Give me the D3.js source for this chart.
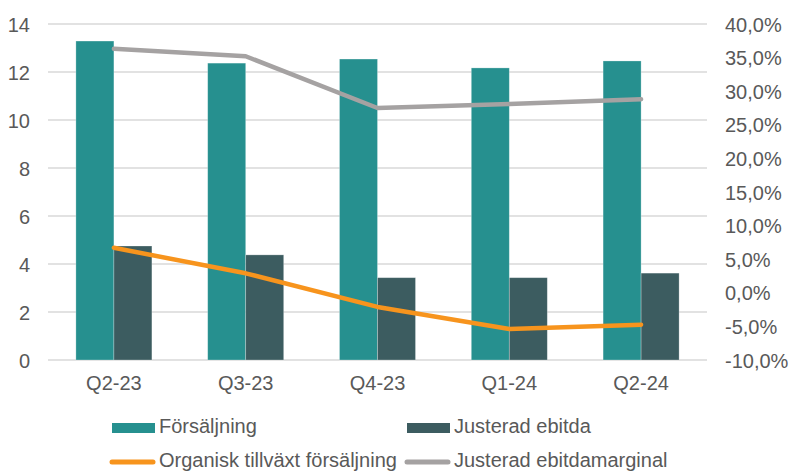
<!DOCTYPE html>
<html><head><meta charset="utf-8">
<script src="https://cdn.jsdelivr.net/npm/d3@7"></script>
<style>
html,body{margin:0;padding:0;background:#fff;}
text{font-family:"Liberation Sans",Arial,sans-serif;fill:#595959;}
</style></head>
<body><svg id="c" width="792" height="471"></svg>
<script>
const categories = ["Q2-23","Q3-23","Q4-23","Q1-24","Q2-24"];
const forsaljning = [13.29, 12.37, 12.54, 12.17, 12.46];
const justeradEbitda = [4.75, 4.38, 3.43, 3.43, 3.62];
const organiskTillvaxt = [6.7, 2.9, -2.1, -5.4, -4.75];
const ebitdamarginal = [36.3, 35.2, 27.5, 28.1, 28.8];
const leftTicks = [0,2,4,6,8,10,12,14];
const rightTicks = [-10,-5,0,5,10,15,20,25,30,35,40];
const barSeries = [
  {name:"Försäljning", values: forsaljning, color:"#26908F"},
  {name:"Justerad ebitda", values: justeradEbitda, color:"#3C5C60"}
];
const lineSeries = [
  {name:"Organisk tillväxt försäljning", values: organiskTillvaxt, color:"#F7941D"},
  {name:"Justerad ebitdamarginal", values: ebitdamarginal, color:"#A5A2A2"}
];

const svg = d3.select("#c");
const L = 48, R = 707, T = 24, B = 360;
const x0 = d3.scaleBand().domain(categories).range([L, R]).padding(0);
const x1 = d3.scaleBand().domain(barSeries.map(s=>s.name)).range([-38, 38]).padding(0);
const yL = d3.scaleLinear().domain([0,14]).range([B, T]);
const yR = d3.scaleLinear().domain([-10,40]).range([B, T]);
const cx = c => x0(c) + x0.bandwidth()/2;

// gridlines
svg.append("g").selectAll("line").data(leftTicks).join("line")
  .attr("x1", L).attr("x2", R)
  .attr("y1", d=>yL(d)).attr("y2", d=>yL(d))
  .attr("stroke", "#D9D9D9").attr("stroke-width", 1.5);

// left axis
const axL = d3.axisLeft(yL).tickValues(leftTicks).tickSize(0).tickPadding(0).tickFormat(d3.format("d"));
const gL = svg.append("g").attr("transform", "translate(30,0)").call(axL);
gL.select(".domain").remove();
gL.selectAll("text").style("font-size","20px").attr("fill","#595959").attr("dy","0.35em");

// right axis
const fmtPct = d => d3.format(".1f")(d).replace(".", ",").replace("\u2212", "-") + "%";
const axR = d3.axisRight(yR).tickValues(rightTicks).tickSize(0).tickPadding(0).tickFormat(fmtPct);
const gR = svg.append("g").attr("transform", "translate(725,0)").call(axR);
gR.select(".domain").remove();
gR.selectAll("text").style("font-size","20px").attr("fill","#595959").attr("dy","0.35em");

// x axis
const axX = d3.axisBottom(x0).tickSize(0).tickPadding(0);
const gX = svg.append("g").attr("transform", "translate(0,375)").call(axX);
gX.select(".domain").remove();
gX.selectAll("text").style("font-size","20px").attr("fill","#595959").attr("dy","0.75em");

// bars
barSeries.forEach(s => {
  svg.append("g").selectAll("rect").data(categories).join("rect")
    .attr("x", (c)=>cx(c) + x1(s.name))
    .attr("width", x1.bandwidth())
    .attr("y", (c,i)=>yL(s.values[i]))
    .attr("height", (c,i)=>yL(0) - yL(s.values[i]))
    .attr("fill", s.color)
    .attr("stroke", "#ffffff").attr("stroke-opacity", 0.35).attr("stroke-width", 0.75);
});

// lines
lineSeries.forEach(s => {
  const line = d3.line().x((d,i)=>cx(categories[i])).y(d=>yR(d));
  svg.append("path").datum(s.values).attr("d", line)
    .attr("fill","none").attr("stroke", s.color).attr("stroke-width", 4.5)
    .attr("stroke-linejoin","round").attr("stroke-linecap","round");
});

// legend
const leg = svg.append("g");
const items = [
  {s: barSeries[0], type:"bar", x:112, y:428},
  {s: barSeries[1], type:"bar", x:407, y:428},
  {s: lineSeries[0], type:"line", x:112, y:462},
  {s: lineSeries[1], type:"line", x:407, y:462}
];
items.forEach(it => {
  if (it.type === "bar") {
    leg.append("rect").attr("x", it.x).attr("y", it.y-5).attr("width", 43).attr("height", 10).attr("fill", it.s.color);
  } else {
    leg.append("line").attr("x1", it.x).attr("x2", it.x+41).attr("y1", it.y).attr("y2", it.y)
      .attr("stroke", it.s.color).attr("stroke-width", 5).attr("stroke-linecap","round");
  }
  leg.append("text").attr("x", it.x+47).attr("y", it.y+4.5).style("font-size","20px").attr("fill","#595959").text(it.s.name);
});
</script></body></html>
